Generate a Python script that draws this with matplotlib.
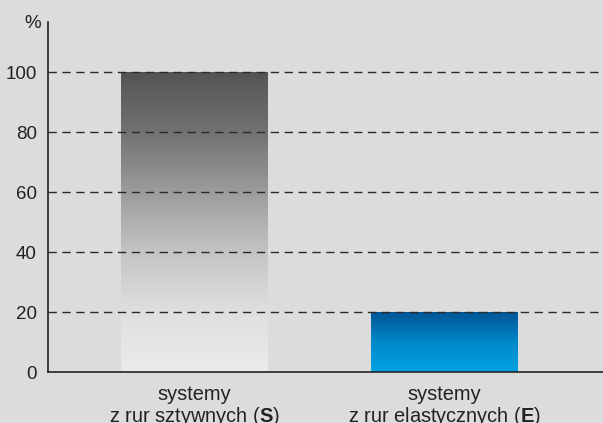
import numpy as np
import matplotlib.pyplot as plt
from matplotlib.colors import LinearSegmentedColormap

plt.rcParams['font.family'] = ['Liberation Sans', 'DejaVu Sans']
plt.rcParams['mathtext.fontset'] = 'custom'
plt.rcParams['mathtext.rm'] = 'Liberation Sans'
plt.rcParams['mathtext.bf'] = 'Liberation Sans:bold'

# data
categories = ['systemy\nz rur sztywnych ($\\mathbf{S}$)',
              'systemy\nz rur elastycznych ($\\mathbf{E}$)']
values = [100, 20]
yticks = [0, 20, 40, 60, 80, 100]

bg = '#dcdcdc'
grays = LinearSegmentedColormap.from_list(
    'g', [(0, '#ebebeb'), (0.2, '#dfdfdf'), (0.4, '#c4c4c4'),
          (0.6, '#9c9c9c'), (0.8, '#727272'), (1, '#545454')], N=256)
blues = LinearSegmentedColormap.from_list('b', ['#00a3e3', '#0088c8', '#005596'], N=256)
cmaps = [grays, blues]

fig = plt.figure(figsize=(6.03, 4.23), dpi=100, facecolor=bg)
ax = fig.add_axes([48 / 603, (423 - 372) / 423, 1 - 48 / 603, 350 / 423])
ax.set_facecolor(bg)

width = 0.583
bars = ax.bar(range(len(values)), values, width=width, color='none', zorder=1)
grad = np.linspace(0, 1, 256).reshape(-1, 1)
for b, cm in zip(bars, cmaps):
    x0 = b.get_x()
    ax.imshow(grad, cmap=cm, origin='lower', aspect='auto', zorder=1,
              extent=[x0, x0 + b.get_width(), 0, b.get_height()])

ax.set_xlim(-0.583, 1.633)
ax.set_ylim(0, 116.7)

for t in yticks[1:]:
    ax.axhline(t, color='#2a2a2a', lw=1, ls=(0, (6, 4)), zorder=3)

ax.set_yticks(yticks)
ax.set_xticks(range(len(values)))
ax.set_xticklabels(categories, fontsize=14.4, color='#222222', linespacing=1.1)
ax.tick_params(axis='y', length=0, pad=8, labelsize=13.5, labelcolor='#222222')
ax.tick_params(axis='x', length=0, pad=9)

for s in ['top', 'right']:
    ax.spines[s].set_visible(False)
for s in ['left', 'bottom']:
    ax.spines[s].set_color('#222222')
    ax.spines[s].set_linewidth(1.2)
    ax.spines[s].set_zorder(4)

fig.text(33 / 603, 1 - 23 / 423, '%', fontsize=13.5, color='#222222', ha='center', va='center')

fig.savefig('out.png', dpi=100, facecolor=bg)
